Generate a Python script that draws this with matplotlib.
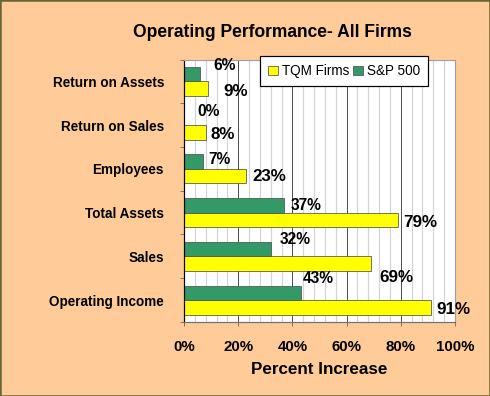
import numpy as np
import matplotlib.pyplot as plt
from matplotlib.patches import Rectangle
from matplotlib.ticker import MultipleLocator, FuncFormatter

plt.rcParams['font.family'] = ['Liberation Sans', 'DejaVu Sans']

categories = ['Operating Income', 'Sales', 'Total Assets', 'Employees',
              'Return on Sales', 'Return on Assets']
tqm = [91, 69, 79, 23, 8, 9]
sp500 = [43, 32, 37, 7, 0, 6]

# label nudges in points (dx, dy), as placed in the original
tqm_off = [(6, -2), (8, -14), (5, -3), (6, 0), (5, -2.5), (15, -3)]
sp_off = [(2, 14), (9, 10), (6, -0.5), (5, 2), (13, 6), (13, 9)]

fig = plt.figure(figsize=(490/72, 396/72), dpi=72, facecolor='#FFCC99')
ax = fig.add_axes([0.3755, 0.1869, 0.5531, 0.6628])
ax.set_facecolor('white')

y = np.arange(len(categories))
h = 0.33
b1 = ax.barh(y - h/2, tqm, h, color='#FFFF00', edgecolor='#555555', linewidth=0.8,
             label='TQM Firms', zorder=3)
b2 = ax.barh(y + h/2, sp500, h, color='#339966', edgecolor='#555555', linewidth=0.8,
             label='S&P 500', zorder=3)

for i in range(len(categories)):
    ax.annotate(f'{tqm[i]}%', (tqm[i], y[i] - h/2), xytext=tqm_off[i],
                textcoords='offset points', ha='left', va='center',
                fontsize=17, fontweight='bold', zorder=5)
    ax.annotate(f'{sp500[i]}%', (sp500[i], y[i] + h/2), xytext=sp_off[i],
                textcoords='offset points', ha='left', va='center',
                fontsize=15.5, fontweight='bold', zorder=5)

ax.set_xlim(0, 100)
ax.set_ylim(-0.5, len(categories) - 0.5)
ax.xaxis.set_major_locator(MultipleLocator(20))
ax.xaxis.set_minor_locator(MultipleLocator(4))
ax.xaxis.set_major_formatter(FuncFormatter(lambda v, p: f'{v:.0f}%'))
ax.grid(which='minor', axis='x', color='#d4d4d4', linewidth=1.2, zorder=0)
ax.grid(which='major', axis='x', color='#505050', linewidth=1, zorder=1)
ax.tick_params(axis='x', which='minor', length=0)
ax.tick_params(axis='x', which='major', length=4, color='#706050', pad=14,
               labelsize=15)

ax.set_yticks(np.arange(len(categories) + 1) - 0.5, minor=False)
ax.set_yticklabels([])
ax.set_yticks(y, minor=True)
ax.set_yticklabels(categories, minor=True)
ax.tick_params(axis='y', which='minor', length=0, pad=20, labelsize=13.5)
ax.tick_params(axis='y', which='major', length=4, color='#806050')
for lab in ax.get_xticklabels() + ax.get_yticklabels(minor=True):
    lab.set_fontweight('bold')

ax.spines['left'].set_color('black')
ax.spines['bottom'].set_color('#707070')
ax.spines['top'].set_color('#a0a0a0')
ax.spines['right'].set_color('#a0a0a0')
for s in ax.spines.values():
    s.set_linewidth(1.2)
    s.set_zorder(4)

ax.set_xlabel('Percent Increase', fontsize=17, fontweight='bold', labelpad=8)

leg = ax.legend(handles=[b1, b2], loc='upper right', bbox_to_anchor=(0.90, 1.013),
                ncol=2, fontsize=13.5, frameon=True, fancybox=False,
                edgecolor='black', framealpha=1, handlelength=0.75, handleheight=0.75,
                handletextpad=0.25, columnspacing=0.3, borderpad=0.6,
                borderaxespad=0)
leg.get_frame().set_linewidth(1.2)
leg.set_zorder(6)

fig.text(0.557, 0.917, 'Operating Performance- All Firms', ha='center', va='center',
         fontsize=17.5, fontweight='bold')

fig.patches.append(Rectangle((0, 0), 1, 1, transform=fig.transFigure, fill=False,
                             edgecolor='#666633', linewidth=2.5))

fig.savefig('out.png', dpi=72, facecolor=fig.get_facecolor())
